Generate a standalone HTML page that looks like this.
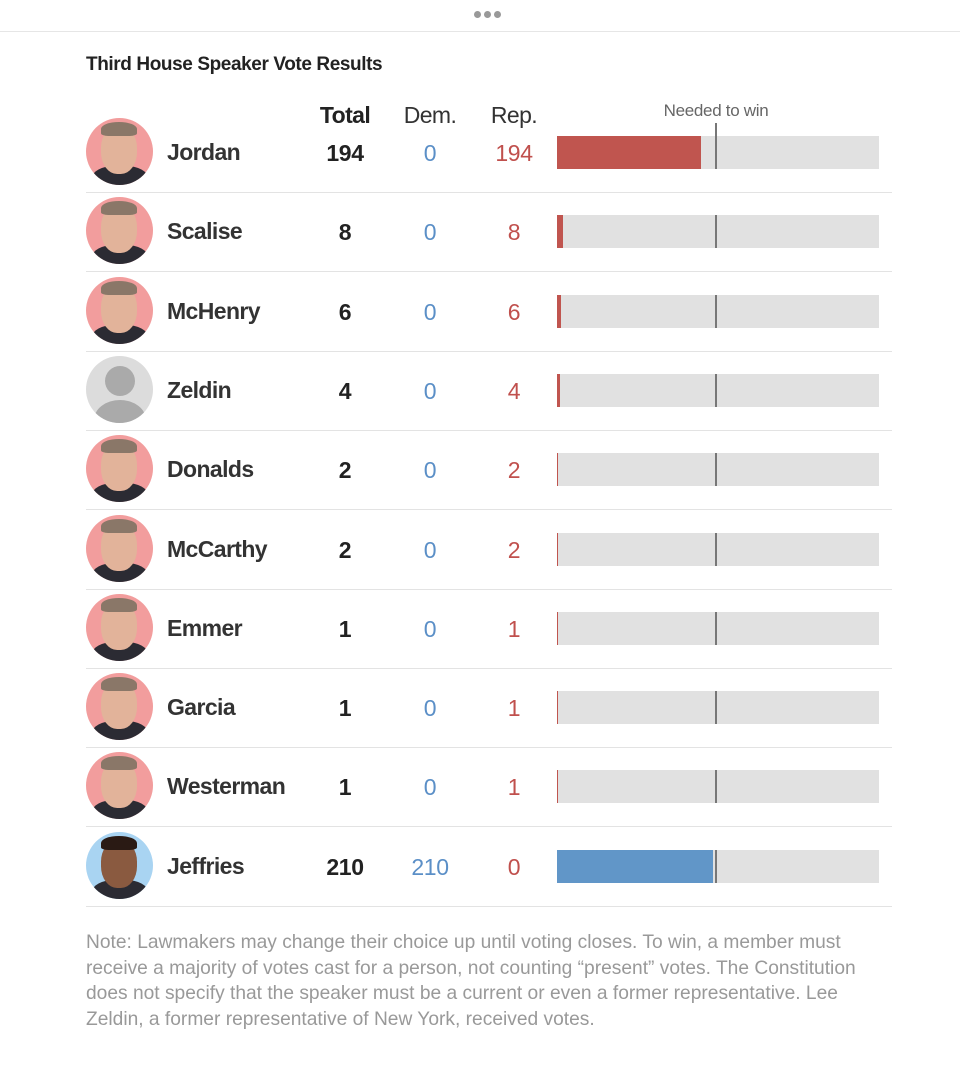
<!DOCTYPE html>
<html><head><meta charset="utf-8"><style>
body{margin:0;width:960px;height:1072px;background:#fff;position:relative;overflow:hidden;font-family:"Liberation Sans",sans-serif;color:#333}
.a{position:absolute;white-space:nowrap}
.c{transform:translateX(-50%)}
.name{font-weight:bold;font-size:23px;letter-spacing:-0.6px;color:#333}
.num{font-size:23px;letter-spacing:-0.4px}
.hdr{font-size:23px;letter-spacing:-0.6px}
</style></head><body>
<div class="a" style="left:474px;top:11px;font-size:0">
<span style="display:inline-block;width:7px;height:7px;border-radius:50%;background:#999;margin-right:3px"></span><span style="display:inline-block;width:7px;height:7px;border-radius:50%;background:#999;margin-right:3px"></span><span style="display:inline-block;width:7px;height:7px;border-radius:50%;background:#999"></span></div>
<div class="a" style="left:0;top:31px;width:960px;height:1px;background:#e6e6e6"></div>
<div class="a" style="left:86px;top:54px;font-size:19px;font-weight:bold;letter-spacing:-0.4px;color:#222">Third House Speaker Vote Results</div>
<div class="a c hdr" style="left:345px;top:102px;font-weight:bold;color:#222">Total</div>
<div class="a c hdr" style="left:430px;top:102px;color:#333">Dem.</div>
<div class="a c hdr" style="left:514px;top:102px;color:#333">Rep.</div>
<div class="a c" style="left:716px;top:101px;font-size:17px;color:#666;letter-spacing:-0.3px">Needed to win</div>
<div id="rows"></div>
<div class="a" style="left:86px;top:930px;font-size:19.2px;line-height:25.5px;color:#999;letter-spacing:0">Note: Lawmakers may change their choice up until voting closes. To win, a member must<br>receive a majority of votes cast for a person, not counting “present” votes. The Constitution<br>does not specify that the speaker must be a current or even a former representative. Lee<br>Zeldin, a former representative of New York, received votes.</div>
<script>
const names=["Jordan","Scalise","McHenry","Zeldin","Donalds","McCarthy","Emmer","Garcia","Westerman","Jeffries"];
const demVotes=[0,0,0,0,0,0,0,0,0,210];
const repVotes=[194,8,6,4,2,2,1,1,1,0];
const neededToWin=213;
const scaleMax=434;
const barX=557,barW=322,rowTop=113,rowH=79.3;
function xScale(v){return v/scaleMax*barW;}
const root=document.getElementById('rows');
function el(tag,style,parent){const e=document.createElement(tag);e.className='a';e.style.cssText=style;(parent||root).appendChild(e);return e;}
names.forEach((n,i)=>{
  const cy=rowTop+rowH*i+39;
  const dem=demVotes[i],rep=repVotes[i],tot=dem+rep;
  const isDem=dem>rep;
  const bg=n==="Zeldin"?"#dcdcdc":(isDem?"#a9d4f2":"#f29d9d");
  const av=el('div',`left:86px;top:${cy-34}px;width:67px;height:67px;border-radius:50%;background:${bg};overflow:hidden`);
  
  
  if(n==="Zeldin"){
    el('div','left:19px;top:10px;width:30px;height:30px;border-radius:50%;background:#aaa',av);
    el('div','left:8px;top:44px;width:52px;height:40px;border-radius:50%;background:#aaa',av);
  }else{
    el('div','left:6px;top:48px;width:56px;height:30px;border-radius:40%;background:#2b2b33',av);
    el('div',`left:15px;top:8px;width:36px;height:48px;border-radius:45%;background:${isDem?'#8a5a40':'#e2b39a'}`,av);
    el('div',`left:15px;top:4px;width:36px;height:14px;border-radius:50% 50% 20% 20%;background:${isDem?'#2a1a14':'#8a7768'}`,av);
  }
  const nm=el('div',`left:167px;top:${cy-13}px`);nm.classList.add('name');nm.textContent=n;
  
  
  const t=el('div',`left:345px;top:${cy-12}px;font-weight:bold;color:#222`);t.classList.add('num','c');t.textContent=tot;
  
  
  const d=el('div',`left:430px;top:${cy-12}px;color:#5b8fc7`);d.classList.add('num','c');d.textContent=dem;
  
  
  const r=el('div',`left:514px;top:${cy-12}px;color:#c0504d`);r.classList.add('num','c');r.textContent=rep;
  
  
  const track=el('div',`left:${barX}px;top:${cy-16}px;width:${barW}px;height:33px;background:#e1e1e1`);
  
  
  const w=Math.max(xScale(tot),1);
  const bar=el('div',`left:${barX}px;top:${cy-16}px;width:${w}px;height:33px;background:${isDem?'#6196c8':'#c0554f'}`);
  
  
  const nx=barX+xScale(neededToWin);
  const ln=el('div',`left:${nx}px;top:${i===0?cy-29:cy-16}px;width:1.5px;height:${i===0?46:33}px;background:#777`);
  
  
  const sep=el('div',`left:86px;top:${cy+40}px;width:806px;height:1px;background:#e3e3e3`);
  
  
});
</script>
</body></html>
